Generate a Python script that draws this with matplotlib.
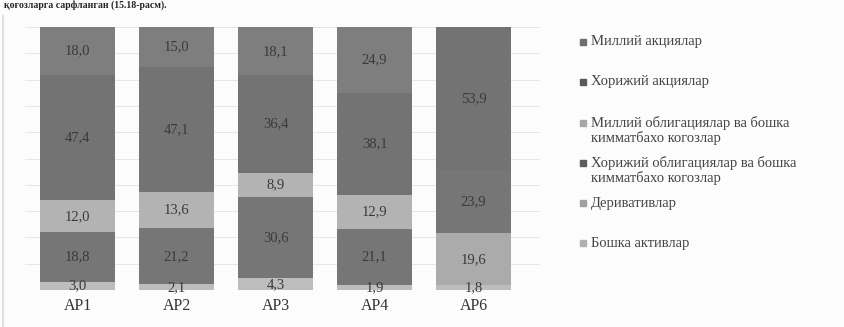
import matplotlib
matplotlib.use("Agg")
import matplotlib.pyplot as plt
import numpy as np

categories = ["АР1", "АР2", "АР3", "АР4", "АР6"]
series_names = ["Миллий акциялар", "Хорижий акциялар",
                "Миллий облигациялар ва бошка\nкимматбахо когозлар",
                "Хорижий облигациялар ва бошка\nкимматбахо когозлар",
                "Деривативлар", "Бошка активлар"]
# values per series (top of stack first, as in the legend)
milliy_aksiya = [18.0, 15.0, 18.1, 24.9, 0.0]
xorijiy_aksiya = [47.4, 47.1, 36.4, 38.1, 53.9]
milliy_oblig = [12.0, 13.6, 8.9, 12.9, 0.0]
xorijiy_oblig = [18.8, 21.2, 30.6, 21.1, 23.9]
derivativ = [0.0, 0.0, 0.0, 0.0, 19.6]
boshqa = [3.0, 2.1, 4.3, 1.9, 1.8]

colors = ["#7e7e7e", "#737373", "#b3b3b3", "#767676", "#ababab", "#bdbdbd"]
marker_colors = ["#6e6e6e", "#5a5a5a", "#a8a8a8", "#5c5c5c", "#a0a0a0", "#b0b0b0"]

plt.rcParams['font.family'] = ['Liberation Serif', 'DejaVu Serif']

fig = plt.figure(figsize=(8.44, 3.27), dpi=100)
fig.patch.set_facecolor("#fcfcfc")
ax = fig.add_axes([25/844, 1-290/327, 515/844, 263/327])
ax.set_facecolor("#fcfcfc")

data = [milliy_aksiya, xorijiy_aksiya, milliy_oblig, xorijiy_oblig, derivativ, boshqa]
arr = np.array(data)
totals = arr.sum(axis=0)
x = np.arange(len(categories))
width = 0.76

bottom = np.zeros(len(categories))
# stack from the bottom: last series first
for idx in range(len(data) - 1, -1, -1):
    vals = np.array(data[idx])
    h = vals / totals * 100
    ax.bar(x, h, width, bottom=bottom, color=colors[idx], edgecolor='none', zorder=2)
    for xi, v, hh, bb in zip(x, vals, h, bottom):
        if v > 0:
            ax.text(xi, bb + hh / 2, f"{v:.1f}".replace('.', ','), ha='center', va='center',
                    fontsize=10.5, color='#3a3a3a', zorder=3)
    bottom += h

ax.set_ylim(0, 100)
ax.set_xlim(-0.53, 4.67)
ax.set_yticks(np.arange(0, 101, 10))
ax.yaxis.grid(True, color='#e2e2e2', linewidth=0.6, zorder=0)
ax.tick_params(axis='y', left=False, labelleft=False)
ax.tick_params(axis='x', bottom=False, labelsize=11.5, colors='#333333', pad=2)
ax.set_xticks(x)
ax.set_xticklabels(categories)
for s in ax.spines.values():
    s.set_visible(False)

# legend drawn manually as figure text
leg_y = [42, 82, 123, 163, 203, 243]
for i, name in enumerate(series_names):
    yy = 1 - leg_y[i] / 327
    fig.patches.append(plt.Rectangle((580/844, yy - 3/327), 6/844, 6/327, transform=fig.transFigure,
                                     color=marker_colors[i], figure=fig))
    lines = name.split("\n")
    fig.text(591/844, yy, lines[0], fontsize=10.5, color='#444444', va='center', ha='left')
    if len(lines) > 1:
        fig.text(591/844, yy - 15/327, lines[1], fontsize=10.5, color='#444444', va='center', ha='left')

# text line from the scanned page (cut off at the top in the source)
fig.text(0.005, 0.998, "қоғозларга сарфланган (15.18-расм).", fontsize=7, color='#222222',
         va='top', ha='left', weight='bold')
fig.add_artist(plt.Line2D([3/844, 3/844], [0, 0.95], color='#d8d8d8', linewidth=1.2))

fig.savefig("out.png", dpi=100, facecolor=fig.get_facecolor())
